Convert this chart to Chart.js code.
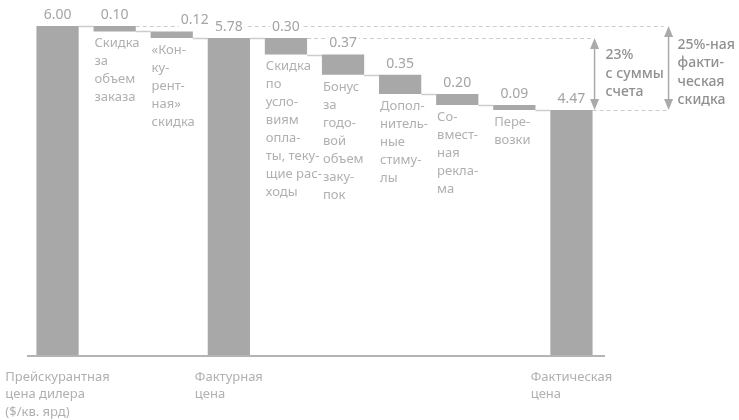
<!DOCTYPE html>
<html>
<head>
<meta charset="utf-8">
<script src="https://cdn.jsdelivr.net/npm/chart.js@4.4.1/dist/chart.umd.min.js"></script>
<style>
  html, body { margin: 0; padding: 0; background: #fff; }
</style>
</head>
<body>
<canvas id="chart" width="739" height="420"></canvas>
<script>
// --- data ---
const categories = ['list', 'volume', 'competitive', 'invoice', 'terms', 'annual', 'incentives', 'coop', 'freight', 'pocket'];
const values = [6.00, 0.10, 0.12, 5.78, 0.30, 0.37, 0.35, 0.20, 0.09, 4.47];
const kinds = ['total', 'minus', 'minus', 'total', 'minus', 'minus', 'minus', 'minus', 'minus', 'total'];

const stepLabels = [
    [],
    ['Скидка', 'за', 'объем', 'заказа'],
    ['«Кон-', 'ку-', 'рент-', 'ная»', 'скидка'],
    [],
    ['Скидка', 'по', 'усло-', 'виям', 'опла-', 'ты, теку-', 'щие рас-', 'ходы'],
    ['Бонус', 'за', 'годо-', 'вой', 'объем', 'заку-', 'пок'],
    ['Допол-', 'нитель-', 'ные', 'стиму-', 'лы'],
    ['Со-', 'вмест-', 'ная', 'рекла-', 'ма'],
    ['Пере-', 'возки'],
    []
];
const baseLabels = [
    ['Прейскурантная', 'цена дилера', '($/кв. ярд)'],
    [], [],
    ['Фактурная', 'цена'],
    [], [], [], [], [],
    ['Фактическая', 'цена']
];
const invoiceNote = ['23%', 'с суммы', 'счета'];
const pocketNote = ['25%-ная', 'факти-', 'ческая', 'скидка'];

// floating ranges for the waterfall
const ranges = [];
const levels = [];
let level = 0;
values.forEach((v, i) => {
    if (kinds[i] === 'total') {
        ranges.push([0, v]);
        level = v;
    } else {
        ranges.push([+(level - v).toFixed(2), level]);
        level = +(level - v).toFixed(2);
    }
    levels.push(level);
});

const FONT = '"Noto Sans", "DejaVu Sans", sans-serif';
const BAR = '#a8a8a8';
const LINE = '#cccccc';
const TEXT = '#b0b0b0';

function arrowHead(ctx, x, y, dir) {
    ctx.beginPath();
    ctx.moveTo(x, y);
    ctx.lineTo(x - 4.5, y + dir * 11);
    ctx.lineTo(x + 4.5, y + dir * 11);
    ctx.closePath();
    ctx.fill();
}

const waterfallExtras = {
    id: 'waterfallExtras',
    beforeDatasetsDraw(chart) {
        const ctx = chart.ctx;
        const y = chart.scales.y;
        const bars = chart.getDatasetMeta(0).data;
        const left = i => bars[i].x - bars[i].width / 2;
        const right = i => bars[i].x + bars[i].width / 2;
        const last = bars.length - 1;
        const arrow1 = right(last) + 2;
        const arrow2 = arrow1 + 74;

        ctx.save();
        // connectors between steps
        ctx.strokeStyle = LINE;
        ctx.lineWidth = 1.5;
        for (let i = 0; i < last; i++) {
            const py = Math.round(y.getPixelForValue(levels[i])) + 0.5;
            ctx.beginPath();
            ctx.moveTo(right(i), py);
            ctx.lineTo(left(i + 1), py);
            ctx.stroke();
        }

        // dashed reference lines
        ctx.setLineDash([4, 3]);
        ctx.lineWidth = 1;
        const dash = (v, x0, x1) => {
            const py = Math.round(y.getPixelForValue(v)) + 0.5;
            ctx.beginPath();
            ctx.moveTo(x0, py);
            ctx.lineTo(x1, py);
            ctx.stroke();
        };
        dash(values[0], right(1), arrow2 - 5);
        dash(values[3], right(4), arrow1 - 1);
        dash(values[last], right(last), arrow2 - 1);
        ctx.setLineDash([]);

        // baseline
        const by = y.getPixelForValue(0) + 1;
        ctx.strokeStyle = '#b4b4b4';
        ctx.lineWidth = 2;
        ctx.beginPath();
        ctx.moveTo(chart.chartArea.left - 2, by);
        ctx.lineTo(chart.chartArea.right + 5, by);
        ctx.stroke();

        // arrows
        ctx.strokeStyle = '#aaaaaa';
        ctx.fillStyle = '#aaaaaa';
        ctx.lineWidth = 1.5;
        const arrow = (x, v0, v1) => {
            const top = y.getPixelForValue(v0);
            const bot = y.getPixelForValue(v1);
            ctx.beginPath();
            ctx.moveTo(x, top + 4);
            ctx.lineTo(x, bot - 4);
            ctx.stroke();
            arrowHead(ctx, x, top, 1);
            arrowHead(ctx, x, bot, -1);
        };
        arrow(arrow1, values[3], values[last]);
        arrow(arrow2, values[0], values[last]);
        ctx.restore();
    },
    afterDatasetsDraw(chart) {
        const ctx = chart.ctx;
        const y = chart.scales.y;
        const bars = chart.getDatasetMeta(0).data;
        const left = i => bars[i].x - bars[i].width / 2;
        const right = i => bars[i].x + bars[i].width / 2;
        const last = bars.length - 1;
        const arrow1 = right(last) + 2;
        const arrow2 = arrow1 + 74;

        ctx.save();
        ctx.textBaseline = 'middle';

        // value labels
        ctx.font = '14px ' + FONT;
        ctx.textAlign = 'center';
        bars.forEach((b, i) => {
            const txt = values[i].toFixed(2);
            const x = b.x + (i === 2 ? 23 : 0);
            const ty = b.y - 11;
            const w = ctx.measureText(txt).width;
            ctx.fillStyle = '#fff';
            ctx.fillRect(x - w / 2 - 2, ty - 7, w + 4, 14);
            ctx.fillStyle = '#a4a4a4';
            ctx.fillText(txt, x, ty);
        });

        // step captions under the small bars
        ctx.font = '13px ' + FONT;
        ctx.textAlign = 'left';
        ctx.fillStyle = TEXT;
        stepLabels.forEach((lines, i) => {
            lines.forEach((t, k) => {
                ctx.fillText(t, left(i) + 1, bars[i].base + 12 + k * 18);
            });
        });

        // captions under the axis
        const by = y.getPixelForValue(0);
        baseLabels.forEach((lines, i) => {
            if (!lines.length) return;
            const w = Math.max(...lines.map(t => ctx.measureText(t).width));
            const x0 = bars[i].x - w / 2;
            lines.forEach((t, k) => {
                ctx.fillText(t, x0, by + 22 + k * 17.5);
            });
        });

        // notes next to the arrows
        ctx.font = '500 14px ' + FONT;
        ctx.fillStyle = '#909090';
        const t1 = y.getPixelForValue(values[3]);
        invoiceNote.forEach((t, k) => ctx.fillText(t, arrow1 + 11, t1 + 17 + k * 18.5));
        const t2 = y.getPixelForValue(values[0]);
        pocketNote.forEach((t, k) => ctx.fillText(t, arrow2 + 9, t2 + 19 + k * 18.3));
        ctx.restore();
    }
};

new Chart(document.getElementById('chart').getContext('2d'), {
    type: 'bar',
    data: {
        labels: categories,
        datasets: [{
            data: ranges,
            backgroundColor: BAR,
            borderWidth: 0,
            barPercentage: 0.74,
            categoryPercentage: 1
        }]
    },
    options: {
        responsive: false,
        animation: false,
        devicePixelRatio: 1,
        layout: { padding: { left: 29, right: 139, top: 26, bottom: 65 } },
        plugins: {
            legend: { display: false },
            tooltip: { enabled: false }
        },
        scales: {
            x: { display: false },
            y: { display: false, min: 0, max: 6 }
        }
    },
    plugins: [waterfallExtras]
});
</script>
</body>
</html>
